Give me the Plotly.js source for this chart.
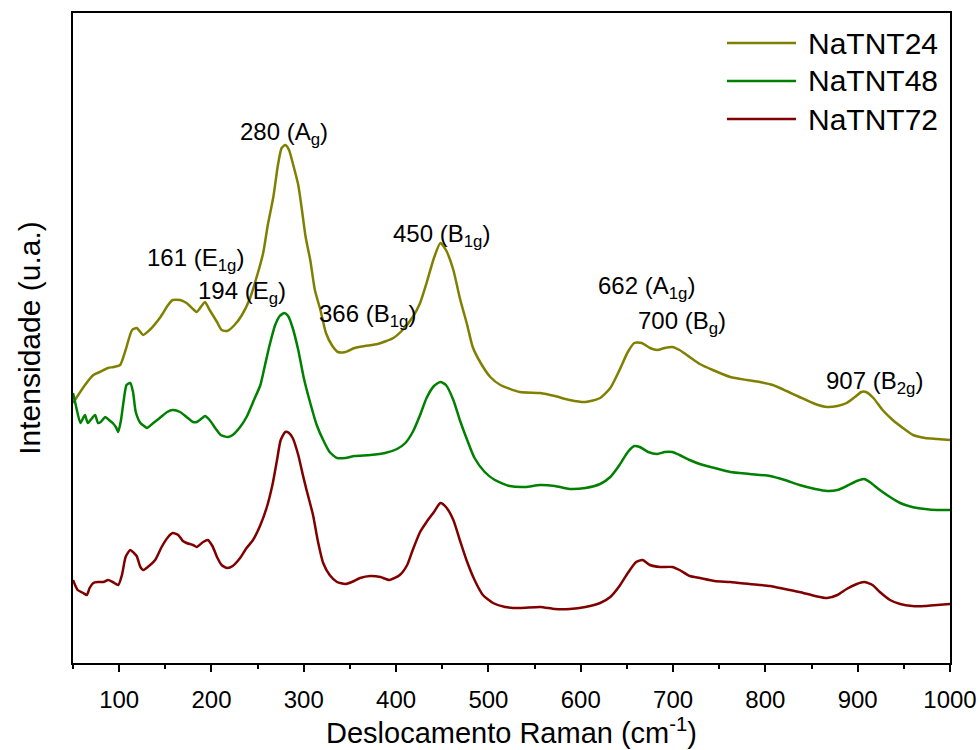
<!DOCTYPE html>
<html>
<head>
<meta charset="utf-8">
<script src="https://cdn.plot.ly/plotly-3.0.1.min.js"></script>
<style>
html,body{margin:0;padding:0;background:#fff;}
#chart{width:980px;height:750px;}
</style>
</head>
<body>
<div id="chart"></div>
<script>
// ---- data (Raman shift in cm^-1, intensity in arbitrary units) ----
const seriesNames = ["NaTNT24", "NaTNT48", "NaTNT72"];

const x24 = [50,63,72,79,88,94,101,107,114,119,126,133,144,153,158,166,173,180,184,190,193,198,206,211,217,225,233,241,248,256,261,267,272,276,280,284,288,294,298,302,307,312,318,324,331,337,345,355,366,380,397,407,418,426,433,441,448,454,462,469,477,483,491,502,513,534,556,572,588,605,621,632,642,651,658,666,675,683,691,699,707,718,729,743,762,780,794,808,823,837,854,867,878,888,897,904,909,917,927,938,949,960,973,986,1000];
const y24 = [260,278,288,291,295,296,298,313,333,335,328,333,345,358,363,363,360,354,351,358,361,353,341,333,332,338,348,363,383,410,438,466,498,515,518,513,500,478,453,426,403,373,353,330,317,311,311,315,317,319,325,333,346,360,380,405,420,413,393,365,338,316,301,286,278,271,270,267,263,261,265,275,293,311,320,320,315,313,315,316,313,306,299,293,286,283,281,278,272,266,259,256,257,260,266,271,271,265,253,243,235,228,225,224,223];

const x48 = [50,53,58,61,63,66,69,74,77,80,85,89,93,97,99,102,105,108,112,115,118,123,127,130,137,144,152,158,166,173,180,184,190,193,198,204,210,218,223,231,238,246,253,258,263,269,274,279,283,288,294,300,307,314,321,328,336,345,355,372,388,401,410,418,426,433,441,448,454,462,469,477,485,496,507,523,540,556,572,588,605,621,632,642,651,658,664,673,683,691,699,707,718,729,745,762,783,805,821,837,854,867,878,888,899,907,913,924,935,946,959,973,986,1000];
const y48 = [270,258,240,245,248,240,243,248,240,241,246,243,240,235,231,243,263,278,280,271,251,240,237,235,240,245,251,253,251,246,241,241,245,247,243,235,228,226,228,236,246,263,278,298,318,338,347,350,347,335,313,285,260,238,223,211,205,205,207,208,210,214,220,231,248,265,277,281,278,263,243,223,205,191,183,177,176,178,177,174,175,179,186,198,211,217,216,211,209,211,211,208,203,199,195,191,189,187,183,178,174,172,173,177,182,184,181,173,166,160,156,154,153,153];

const x72 = [50,55,61,65,68,72,77,83,88,93,99,103,107,112,116,119,123,126,131,139,146,153,158,164,169,173,180,184,191,196,201,206,211,217,223,231,238,245,253,260,266,271,275,280,284,288,294,299,303,310,315,321,328,336,345,352,361,372,383,393,404,412,418,426,433,441,448,454,462,469,477,485,494,505,518,534,556,572,588,605,621,632,642,651,660,667,675,686,699,707,718,729,745,762,783,805,821,837,854,867,878,888,899,907,916,924,935,946,959,973,986,1000];
const y72 = [83,73,70,68,75,80,81,81,83,81,78,88,106,113,110,107,96,93,96,103,116,126,130,128,122,120,118,116,121,123,117,106,98,95,97,105,115,123,138,156,178,203,223,231,230,225,208,188,173,148,123,100,88,81,79,81,85,87,86,83,88,98,113,131,141,151,160,156,143,123,101,83,68,60,56,55,56,54,54,56,60,66,77,90,101,103,98,96,96,93,87,85,82,81,79,77,74,71,67,65,68,74,79,81,78,71,63,59,57,57,58,59];

const peakText = ["161 (E<sub>1g</sub>)", "194 (E<sub>g</sub>)", "280 (A<sub>g</sub>)", "366 (B<sub>1g</sub>)", "450 (B<sub>1g</sub>)", "662 (A<sub>1g</sub>)", "700 (B<sub>g</sub>)", "907 (B<sub>2g</sub>)"];

const xTickVals = [100,200,300,400,500,600,700,800,900,1000];
const xTickText = ["100","200","300","400","500","600","700","800","900","1000"];

// ---- styling ----
const colors = ["#808000", "#008000", "#800000"];
const FONT = "Liberation Sans, Arial, sans-serif";

const traces = [[x24,y24],[x48,y48],[x72,y72]].map((d,i)=>({
  x: d[0], y: d[1], type: "scatter", mode: "lines",
  name: seriesNames[i], showlegend: false,
  line: {color: colors[i], width: 2.5, shape: "spline", smoothing: 0.6}
}));

// label anchor positions (left edge, vertical middle) in data units
const labelPos = [[128,404],[183,371],[229,530],[314,348],[395,428],[617,376],[660,341],[863,281]];
const annotations = peakText.map((t,i)=>({
  x: labelPos[i][0], y: labelPos[i][1], xref: "x", yref: "y",
  text: t, showarrow: false, xanchor: "left", yanchor: "middle",
  font: {family: FONT, size: 24, color: "#000"}
}));

// manual legend (long line samples)
const legRows = [0.9538, 0.8954, 0.8369];
const shapes = [];
seriesNames.forEach((n,i)=>{
  shapes.push({type:"line", xref:"paper", yref:"paper", x0:0.7457, x1:0.8244, y0:legRows[i], y1:legRows[i],
    line:{color:colors[i], width:2.5}});
  annotations.push({x:0.8358, y:legRows[i], xref:"paper", yref:"paper", text:n, showarrow:false,
    xanchor:"left", yanchor:"middle", font:{family:FONT, size:30, color:"#000"}});
});

const layout = {
  width: 980, height: 750,
  margin: {l: 73, r: 30, t: 13, b: 87},
  paper_bgcolor: "#fff", plot_bgcolor: "#fff",
  font: {family: FONT, color: "#000"},
  showlegend: false,
  xaxis: {
    range: [50, 1000], showgrid: false, zeroline: false,
    showline: true, linecolor: "#000", linewidth: 2, mirror: true,
    ticks: "outside", ticklen: 7, tickwidth: 2, tickcolor: "#000",
    tickvals: xTickVals, ticktext: xTickText, ticklabelstandoff: 7,
    tickfont: {family: FONT, size: 24, color: "#000"},
    minor: {dtick: 50, tick0: 50, ticks: "outside", ticklen: 4, tickwidth: 2, tickcolor: "#000", showgrid: false},
    title: {text: "Deslocamento Raman (cm<sup>-1</sup>)", font: {family: FONT, size: 29, color: "#000"}, standoff: 9}
  },
  yaxis: {
    range: [0, 650], showgrid: false, zeroline: false,
    showline: true, linecolor: "#000", linewidth: 2, mirror: true,
    ticks: "", showticklabels: false,
    title: {text: "Intensidade (u.a.)", font: {family: FONT, size: 30, color: "#000"}, standoff: 22}
  },
  annotations: annotations,
  shapes: shapes
};

Plotly.newPlot("chart", traces, layout, {staticPlot: true, displayModeBar: false});
</script>
</body>
</html>
